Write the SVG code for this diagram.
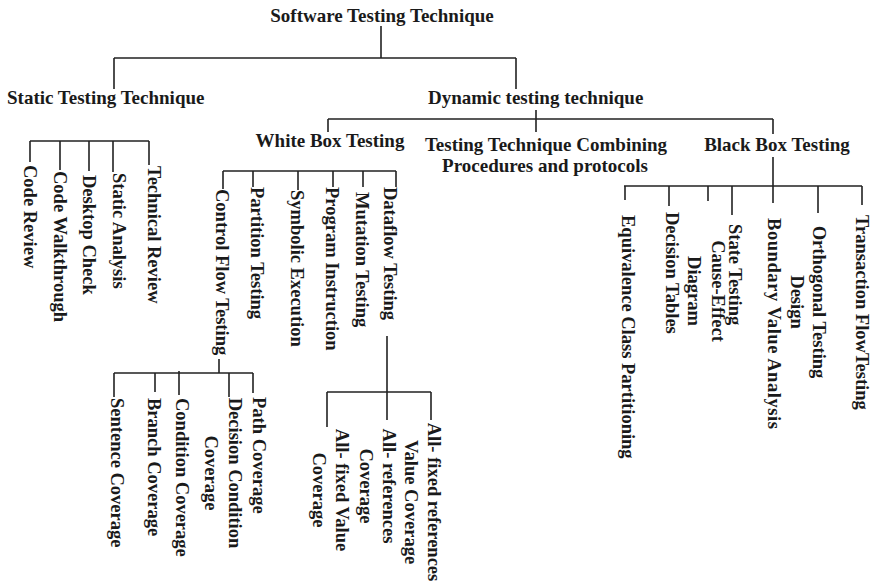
<svg xmlns="http://www.w3.org/2000/svg" width="872" height="587" viewBox="0 0 872 587">
  <style>
    text { font-family: "Liberation Serif", "Times New Roman", serif; font-weight: bold; fill: #1a1a1a; }
    .h { font-size: 19px; }
    .v { font-size: 18.5px; }
    .c { text-anchor: middle; }
    #connectors path { fill: none; stroke: #222; stroke-width: 1.6; }
  </style>
  <rect width="872" height="587" fill="#fff"/>

  <g id="connectors">
    <!-- root -->
    <path d="M381 26V58M114 58H516M114 58V89M516 58V89"/>
    <!-- dynamic -->
    <path d="M536 110V132M328 119H773M328 119V132M773 119V134"/>
    <!-- black box -->
    <path d="M773 157V186M624 186H862M625 186V200M669 186V206M708 186V201M732 186V215M773 186V203M818 186V213M862 186V205"/>
    <!-- static -->
    <path d="M30 141H149M30 141V162M60 141V170M89 141V171M113 141V172M149 141V165"/>
    <!-- white box -->
    <path d="M223 171H396M223 171V189M253 171V187M298 171V190M333 171V187M363 171V187M396 171V187"/>
    <!-- control flow -->
    <path d="M219 359V373M114 373H253M114 373V397M155 373V392M179 371V395M229 373V397M253 373V393"/>
    <!-- dataflow -->
    <path d="M387 336V392M327 392H431M327 392V427M387 392V420M431 392V420"/>
  </g>

  <g id="root"><text class="h c" x="382" y="22">Software Testing Technique</text></g>
  <g id="static"><text class="h" x="7" y="104">Static Testing Technique</text></g>
  <g id="dynamic"><text class="h" x="428" y="104">Dynamic testing technique</text></g>
  <g id="whitebox"><text class="h c" x="330" y="147">White Box Testing</text></g>
  <g id="combining"><text class="h c" x="546" y="151">Testing Technique Combining<tspan x="545" dy="21">Procedures and protocols</tspan></text></g>
  <g id="blackbox"><text class="h c" x="777" y="151">Black Box Testing</text></g>

  <!-- static techniques -->
  <g id="code-review"><text class="v" transform="translate(23.5,165) rotate(90)">Code Review</text></g>
  <g id="code-walkthrough"><text class="v" transform="translate(53.5,171) rotate(90)">Code Walkthrough</text></g>
  <g id="desktop-check"><text class="v" transform="translate(82.5,175) rotate(90)">Desktop Check</text></g>
  <g id="static-analysis"><text class="v" transform="translate(112.5,173) rotate(90)">Static Analysis</text></g>
  <g id="technical-review"><text class="v" transform="translate(147.5,166) rotate(90)">Technical Review</text></g>

  <!-- white box techniques -->
  <g id="control-flow"><text class="v" transform="translate(215.5,189) rotate(90)">Control Flow Testing</text></g>
  <g id="partition"><text class="v" transform="translate(250.5,187) rotate(90)">Partition Testing</text></g>
  <g id="symbolic"><text class="v" transform="translate(290.5,190) rotate(90)">Symbolic Execution</text></g>
  <g id="program-instruction"><text class="v" transform="translate(325.5,187) rotate(90)">Program Instruction</text></g>
  <g id="mutation"><text class="v" transform="translate(355.5,192) rotate(90)">Mutation Testing</text></g>
  <g id="dataflow"><text class="v" transform="translate(383.5,187) rotate(90)">Dataflow Testing</text></g>

  <!-- control flow coverage -->
  <g id="sentence"><text class="v" transform="translate(110.5,398) rotate(90)">Sentence Coverage</text></g>
  <g id="branch"><text class="v" transform="translate(147.5,398) rotate(90)">Branch Coverage</text></g>
  <g id="condition"><text class="v" transform="translate(175.5,398) rotate(90)">Condition Coverage</text></g>
  <g id="decision-condition"><text class="v c" transform="translate(228.5,473) rotate(90)">Decision Condition<tspan x="0" dy="24">Coverage</tspan></text></g>
  <g id="path"><text class="v" transform="translate(252.5,397) rotate(90)">Path Coverage</text></g>

  <!-- dataflow coverage -->
  <g id="all-fixed-value"><text class="v c" transform="translate(335.5,490) rotate(90)">All- fixed Value<tspan x="0" dy="23">Coverage</tspan></text></g>
  <g id="all-references"><text class="v c" transform="translate(382.5,486) rotate(90)">All- references<tspan x="0" dy="23">Coverage</tspan></text></g>
  <g id="all-fixed-references"><text class="v c" transform="translate(427.5,502) rotate(90)">All- fixed references<tspan x="0" dy="23">Value Coverage</tspan></text></g>

  <!-- black box techniques -->
  <g id="equivalence"><text class="v" transform="translate(621.5,215) rotate(90)">Equivalence Class Partitioning</text></g>
  <g id="decision-tables"><text class="v" transform="translate(665.5,212) rotate(90)">Decision Tables</text></g>
  <g id="cause-effect"><text class="v c" transform="translate(712,291) rotate(90)">Cause-Effect<tspan x="0" dy="24">Diagram</tspan></text></g>
  <g id="state"><text class="v" transform="translate(728.5,224) rotate(90)">State Testing</text></g>
  <g id="boundary"><text class="v" transform="translate(767.5,218) rotate(90)" textLength="211">Boundary Value Analysis</text></g>
  <g id="orthogonal"><text class="v c" transform="translate(813,302) rotate(90)">Orthogonal Testing<tspan x="0" dy="22">Design</tspan></text></g>
  <g id="transaction"><text class="v" transform="translate(855.5,215) rotate(90)">Transaction FlowTesting</text></g>
</svg>
